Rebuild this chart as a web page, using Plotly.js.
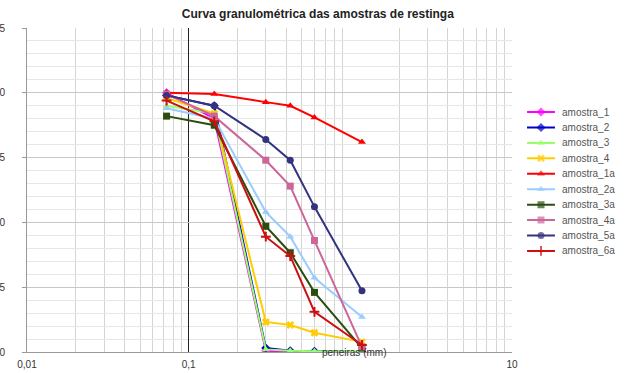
<!DOCTYPE html>
<html>
<head>
<meta charset="utf-8">
<script src="https://cdn.plot.ly/plotly-3.0.1.min.js"></script>
<style>html,body{margin:0;padding:0;background:#fff;}#chart{width:642px;height:373px;}</style>
</head>
<body>
<div id="chart"></div>
<script>
// Sieve openings (mm)
const sieves = [0.073, 0.144, 0.3, 0.425, 0.6, 1.18];

const seriesNames = ["amostra_1","amostra_2","amostra_3","amostra_4","amostra_1a","amostra_2a","amostra_3a","amostra_4a","amostra_5a","amostra_6a"];

// % passing
const amostra_1  = [100, 90, 0.5, 0, 0, 0];
const amostra_2  = [99, 95, 1.5, 0.5, 0.3, 0];
const amostra_3  = [95, 92, 1, 0.5, 0.3, 0];
const amostra_4  = [98, 92, 11.6, 10.4, 7.4, 3.9];
const amostra_1a = [100, 99.5, 96.4, 95, 90.5, 81];
const amostra_2a = [94, 90, 54, 44.5, 28.6, 13.5];
const amostra_3a = [91, 87.5, 48.5, 38.3, 23, 1.5];
const amostra_4a = [99.5, 91, 74, 64, 43, 2];
const amostra_5a = [99, 95, 82, 74, 56, 23.6];
const amostra_6a = [97, 89, 44.5, 37, 15.5, 2.7];

const xTickVals = [0.01, 0.1, 10];
const xTickText = ["0,01", "0,1", "10"];

const seriesValues = [amostra_1, amostra_2, amostra_3, amostra_4, amostra_1a, amostra_2a, amostra_3a, amostra_4a, amostra_5a, amostra_6a];
const colors  = ["#ff00ff","#0000cc","#99ff66","#ffcc00","#ff0000","#99ccff","#2b4d10","#cc6699","#333380","#cc1010"];
const symbols = ["diamond","diamond","triangle-up","x","triangle-up","triangle-up","square","square","circle","cross-thin-open"];

function mk(i, size) {
  return {color: colors[i], symbol: symbols[i], size: size,
          line: {color: colors[i], width: symbols[i].indexOf("thin") >= 0 ? 2 : 0}};
}

const traces = seriesNames.map((n, i) => ({
  x: sieves, y: seriesValues[i], name: n, type: "scatter", mode: "lines+markers",
  showlegend: false,
  line: {color: colors[i], width: 2},
  marker: mk(i, 7)
}));

// custom compact legend drawn on its own small axes
const legendTraces = seriesNames.map((n, i) => ({
  x: [0, 1, 2], y: [i, i, i], xaxis: "x2", yaxis: "y2",
  type: "scatter", mode: "lines+markers", showlegend: false, hoverinfo: "skip",
  line: {color: colors[i], width: 2},
  marker: Object.assign(mk(i, 7), {size: [0, 7, 0]})
}));

const legendLabels = seriesNames.map((n, i) => ({
  text: n, xref: "paper", yref: "y2", x: 0.8695, y: i,
  xanchor: "left", yanchor: "middle", showarrow: false,
  font: {size: 10, color: "#555"}
}));

// minor grid positions (2..9 per decade)
const minorVals = [];
[0.01, 0.1, 1].forEach(d => { for (let k = 2; k <= 9; k++) minorVals.push(+(d*k).toPrecision(3)); });
const yMinor = [];
for (let v = 5; v < 125; v += 5) if (v % 25) yMinor.push(v);

const layout = {
  width: 642, height: 373,
  margin: {l: 27, r: 2, t: 28, b: 21},
  paper_bgcolor: "#fff", plot_bgcolor: "rgba(0,0,0,0)",
  font: {family: "Liberation Sans, Arial, sans-serif", color: "#333", size: 10},
  title: {text: "<b>Curva granulométrica das amostras de restinga</b>", x: 0.495, xanchor: "center", y: 0.962, yanchor: "middle", font: {size: 12, color: "#222"}},
  xaxis: {
    type: "log", range: [-2, 1], domain: [0, 0.7912],
    tickvals: xTickVals, ticktext: xTickText,
    showgrid: true, gridcolor: "#222", gridwidth: 1,
    showline: true, linecolor: "#999", linewidth: 1, zeroline: false,
    ticks: "", ticklabelstandoff: 3, tickfont: {size: 10, color: "#333"},
    minor: {tickvals: minorVals, showgrid: true, gridcolor: "#d4d4d4", gridwidth: 1, ticks: ""},
    fixedrange: true
  },
  yaxis: {
    range: [0, 125], dtick: 25, tick0: 0,
    showgrid: true, gridcolor: "#c8c8c8", gridwidth: 1,
    showline: true, linecolor: "#999", linewidth: 1, zeroline: false,
    ticks: "outside", ticklen: 4, tickcolor: "#999",
    ticklabelstandoff: 15,
    tickfont: {size: 10, color: "#333"},
    minor: {tickvals: yMinor, showgrid: true, gridcolor: "#e6e6e6", gridwidth: 1, ticks: ""},
    automargin: false, fixedrange: true
  },
  xaxis2: {domain: [0.8157, 0.8613], range: [0, 2], anchor: "y2", visible: false, fixedrange: true},
  yaxis2: {domain: [0.288, 0.7645], range: [9.5, -0.5], anchor: "x2", visible: false, fixedrange: true},
  showlegend: false,
  annotations: [{
    text: "peneiras (mm)", xref: "paper", yref: "paper",
    x: 0.5334, y: 0.0, xanchor: "center", yanchor: "middle",
    showarrow: false, font: {size: 10, color: "#333"}
  }].concat(legendLabels)
};

Plotly.newPlot("chart", traces.concat(legendTraces), layout, {displayModeBar: false, staticPlot: true});
</script>
</body>
</html>
